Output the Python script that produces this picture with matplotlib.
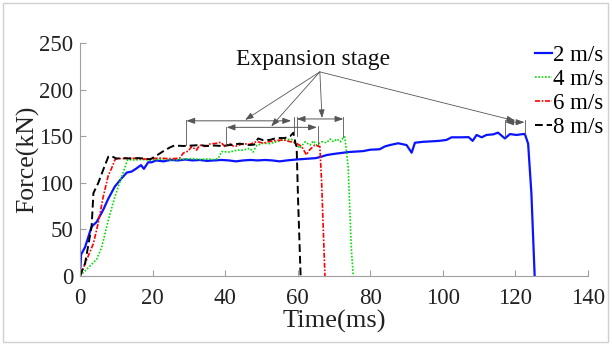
import matplotlib
matplotlib.use("Agg")
import matplotlib.pyplot as plt
from matplotlib.patches import Rectangle

# === Datos ===
t2 = [0, 0.3, 1.4, 3.2, 4.6, 6.4, 7.8, 9.6, 11.5, 12.9, 14.2, 15.6, 16.8, 17.6, 18.8, 19.7,
      21, 23, 25, 27, 29, 31, 33, 35, 37, 39, 41, 43, 45, 47, 49, 51, 53, 55, 57, 59.6,
      61.5, 63.3, 65, 66.5, 68, 70, 72, 74, 76, 78, 80, 82.6, 84, 85.4, 87.7, 90, 91.4,
      92.3, 94.6, 97.4, 99, 101, 102.4, 104.8, 107.1, 108.2, 109.3, 110.7, 112, 113.9,
      115.2, 117.1, 118.5, 120.3, 121.5, 122.6, 123.5, 124.4, 125.3]
f2 = [0, 23, 31, 53, 58, 71, 83, 96, 105, 111, 112, 115.5, 119, 115, 122, 122,
      124, 123, 124.5, 124, 125, 124, 124.5, 123.5, 124, 124.5, 124, 123, 124, 124.5, 124, 124.5, 124, 123, 124, 125,
      125.5, 126, 126.5, 128, 129.8, 131, 132, 133, 133.5, 134, 135.5, 136, 139, 140.5, 142.4, 140.5, 132.3,
      143, 144, 144.6, 145, 146, 148.8, 148.8, 149, 145, 151.3, 148.8, 151.3, 152,
      153.8, 147.6, 152.3, 151.3, 152, 152.4, 142, 88.7, 0]

t4 = [0, 4.6, 6.0, 7.8, 9.6, 11.5, 12.9, 13.2, 15, 17, 19, 21, 23, 25, 27, 29, 31, 33, 35, 37,
      38.1, 39, 41.3, 43.2, 44.9, 46.8, 47.7, 48.7, 50.5, 52.3, 54.1, 56, 58.3, 59.2, 60.2,
      60.6, 62, 63.4, 64.3, 65.2, 66.6, 68, 68.9, 69.9, 70.8, 71.7, 72.8, 73.0, 73.9, 74.8, 75.3]
f4 = [0, 18, 31, 60, 85, 106.6, 122.7, 125, 124.5, 125, 124.5, 125, 125.5, 124.5, 125, 125.5, 126, 125, 125.5, 125,
      126, 133.4, 133, 135, 135, 137, 133, 140, 142.5, 142, 144, 146, 146.7, 143, 139,
      137, 144, 140.5, 145, 140.5, 144, 143, 147, 144, 147, 144, 149.5, 149, 117, 28, 0]

t6 = [0, 1.8, 3.7, 5.0, 6.4, 7.8, 8.7, 9.6, 10, 12, 14, 16, 18, 20, 22, 24, 26, 27.5, 28.5,
      29.8, 30.8, 32.1, 33, 34.5, 35.8, 37.6, 38.8, 39.9, 41.3, 42.2, 43.1, 44.9, 46.8, 48.7,
      50.5, 52.3, 54.1, 56, 57.8, 59.6, 61.1, 62.4, 63.3, 64.7, 65.6, 66.1, 66.6, 67.5]
f6 = [0, 17, 35, 56.5, 85, 108, 115.5, 124.5, 126, 126, 126.5, 126, 125.5, 126, 126.5, 126, 126, 126.5, 132,
      134, 139, 135, 140.5, 139, 141.6, 142.4, 143.6, 139, 142, 139.5, 139.4, 142, 141.3, 144.3,
      142.5, 144.3, 145.4, 146, 144.3, 142.5, 139, 130, 135.4, 140.5, 139.4, 139, 99.5, 0]

t8 = [0, 1.4, 3.2, 3.7, 5.0, 6.4, 7.8, 8.5, 10, 12, 14, 16, 18, 19.3, 21, 23, 24.8, 26, 28.5,
      31, 33, 35, 37, 39, 41.3, 44, 46.8, 48, 49.1, 50.4, 52.3, 54.1, 56.4, 57.9, 58.8, 59.4,
      59.7, 60.1, 60.8]
f8 = [0, 13.6, 53, 89, 99.5, 114, 128, 129, 126, 126.5, 126, 126.5, 126, 125, 129, 134, 138, 140, 139.5,
      140, 140.5, 139.5, 140, 139.5, 140.5, 142, 140.5, 141, 147.6, 145.8, 146, 148, 148, 150, 153.7, 142,
      139, 81.5, 0]

labels = ["2 m/s", "4 m/s", "6 m/s", "8 m/s"]

# tramos de expansión: (inicio, fin, altura)
spans = [(29.3, 58.2, 166.5), (40.4, 65.3, 159.5), (59.7, 72.6, 168.5), (117.2, 122.5, 165)]
# líneas verticales: (x, y_arriba, y_abajo)
vlines = [(29.3, 167, 140.5), (40.3, 160, 139), (59.0, 171, 153), (59.7, 171, 150),
          (65.5, 161, 140.5), (72.6, 171, 149.5), (117.2, 167, 149), (122.5, 167, 152)]
arrow_src = (66.1, 219)
arrow_tips = [(45.5, 167.5), (52.7, 160.5), (66.7, 169.5), (119.9, 166.5)]

plt.rcParams['font.family'] = ['Liberation Serif', 'DejaVu Serif']

fig = plt.figure(figsize=(6.12, 3.44), dpi=100)
ax = fig.add_axes([80 / 612, 1 - 276 / 344, 508 / 612, 233 / 344])

ax.plot(t2, f2, color='#0a14ff', lw=1.6, label=labels[0])
ax.plot(t4, f4, color='#00e000', lw=1.2, ls=(0, (1, 1)), label=labels[1])
ax.plot(t6, f6, color='#ff0000', lw=1.2, ls=(0, (3, 1, 1, 1)), label=labels[2])
ax.plot(t8, f8, color='black', lw=1.4, ls=(0, (4, 2)), label=labels[3])

ax.set_xlim(0, 140)
ax.set_ylim(0, 250)
ax.set_xticks(range(0, 141, 20))
ax.set_yticks(range(0, 251, 50))
for s in ['top', 'right']:
    ax.spines[s].set_visible(False)
for s in ['left', 'bottom']:
    ax.spines[s].set_color('#a0a0a0')
    ax.spines[s].set_linewidth(0.8)
ax.tick_params(direction='in', length=4, color='#a0a0a0', labelsize=16.5, labelcolor='#222222')
ax.tick_params(axis='x', pad=9)
ax.tick_params(axis='y', pad=5)
ax.set_xlabel("Time(ms)", fontsize=19, color='#222222', labelpad=0)
ax.set_ylabel("Force(kN)", fontsize=18.5, color='#222222', labelpad=0)

# anotaciones
gray = '#555555'
for x0, x1, y in spans:
    ax.annotate('', xy=(x1, y), xytext=(x0, y),
                arrowprops=dict(arrowstyle='<|-|>,head_length=0.5,head_width=0.18',
                                color=gray, lw=0.7, shrinkA=0, shrinkB=0))
for x, ya, yb in vlines:
    ax.plot([x, x], [ya, yb], color=gray, lw=0.6)
for tip in arrow_tips:
    ax.annotate('', xy=tip, xytext=arrow_src,
                arrowprops=dict(arrowstyle='-|>,head_length=0.5,head_width=0.18',
                                color=gray, lw=0.6, shrinkA=0, shrinkB=0))
ax.text(64.2, 232, "Expansion stage", fontsize=17, ha='center', va='center', color='#111111')

ax.legend(loc='upper left', bbox_to_anchor=(535 / 612, 1 - 45 / 344), bbox_transform=fig.transFigure,
          frameon=False, fontsize=16.5, handlelength=0.75, handletextpad=0.05,
          labelspacing=0.13, borderpad=0, borderaxespad=0)

# marco gris de la imagen
fig.patches.append(Rectangle((3.5 / 612, 2.5 / 344), 604.5 / 612, 339 / 344, transform=fig.transFigure,
                             fill=False, edgecolor='#d0d0d0', lw=1))

fig.savefig("out.png", dpi=100)
